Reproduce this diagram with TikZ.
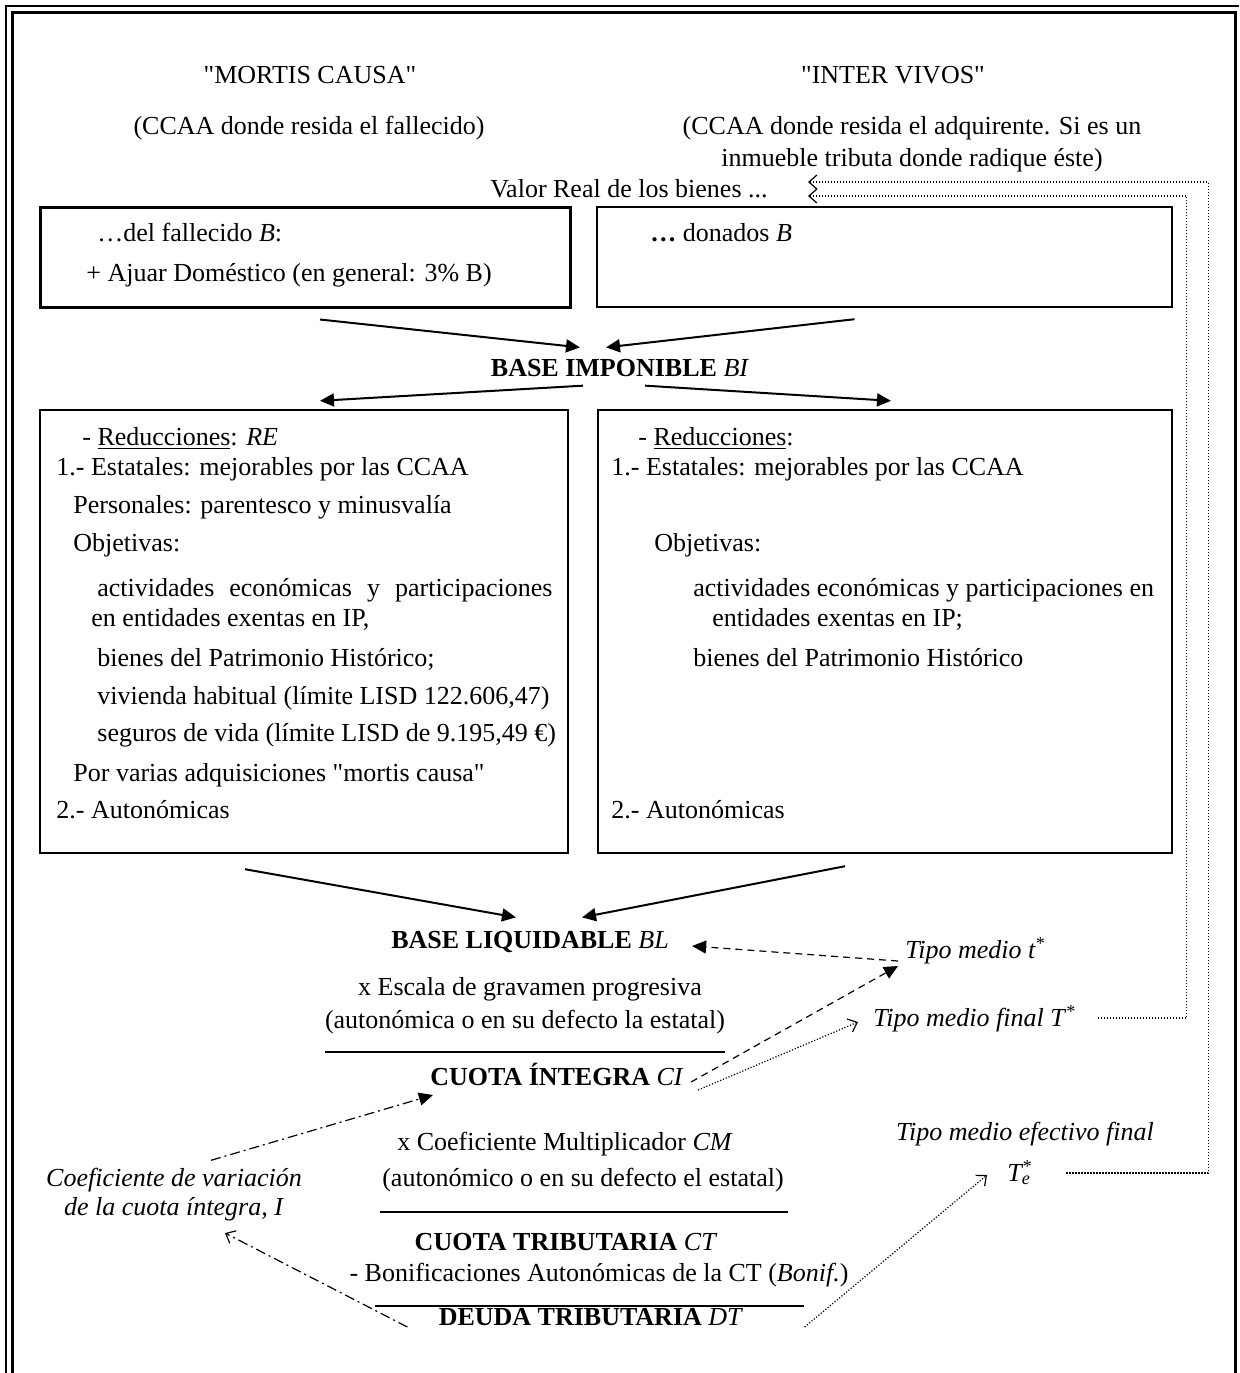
\documentclass[tikz,border=0pt]{standalone}
\usepackage{fontspec}
\setmainfont{Liberation Serif}[Ligatures=TeXOff]
\usetikzlibrary{arrows.meta,calc}

\tikzset{
  txt/.style={inner sep=0pt, anchor=base west},
  ctr/.style={inner sep=0pt, anchor=base},
  box/.style={draw, line width=1.2pt, inner sep=0pt},
  solidarr/.style={line width=1pt, -{Triangle[length=7pt,width=6.5pt]}},
  dasharr/.style={line width=0.6pt, dash pattern=on 3.5pt off 2.5pt, -{Triangle[length=7pt,width=6.5pt]}},
  dotarr/.style={line width=0.6pt, dash pattern=on 0.6pt off 0.9pt, -{Straight Barb[length=4pt,width=7pt]}},
  dashdot/.style={line width=0.6pt, dash pattern=on 5pt off 2pt on 1pt off 2pt},
}

\begin{document}
\begin{tikzpicture}[x=0.5pt,y=0.5pt,yscale=-1,font=\fontsize{13}{15}\selectfont]
\useasboundingbox (0,0) rectangle (1239,1373);

%Double frame
\draw[line width=1pt] (6,1373) -- (6,6) -- (1239,6);
\draw[line width=1.5pt] (12,1373) -- (12,12) -- (1235,12) -- (1235,1373);

% Text Node
\node[ctr] (mc) at (310,83) {"MORTIS CAUSA"};
% Text Node
\node[ctr] (iv) at (893,83) {"INTER VIVOS"};
% Text Node
\node[ctr] (mcsub) at (309,134) {(CCAA donde resida el fallecido)};
% Text Node
\node[ctr] (ivsub) at (912,134) {(CCAA donde resida el adquirente. Si es un};
\node[ctr] (ivsubb) at (912,166) {inmueble tributa donde radique éste)};
% Text Node
\node[txt, anchor=base east] (valor) at (768,197) {Valor Real de los bienes ...};

%Shape: Rectangle
\node[box, line width=1.5pt, minimum width=265pt, minimum height=50pt] (mcbox) at (305,257) {};
\node[box, minimum width=287.5pt, minimum height=50pt] (ivbox) at (884.5,257) {};
\node[txt] (mcb1) at (97,241) {…del fallecido \textit{B}:};
\node[txt] (mcb2) at (86,281) {+ Ajuar Doméstico (en general: 3\% B)};
\node[txt] (ivb1) at (650,241) {\textbf{…} donados \textit{B}};

% Text Node
\node[ctr] (bi) at (620,376) {\textbf{BASE IMPONIBLE} \textit{BI}};

%Shape: Rectangle
\node[box, minimum width=264pt, minimum height=221.5pt] (mcred) at (304,631.5) {};
\node[box, minimum width=287pt, minimum height=221.5pt] (ivred) at (885,631.5) {};

%Straight Lines
\draw[solidarr] ($(mcbox.south)+(15,11)$) -- ($(bi.north)+(-40,-11)$);
\draw[solidarr] ($(ivbox.south)+(-30,11)$) -- ($(bi.north)+(-14,-11)$);
\draw[solidarr] ($(bi.south)+(-37,9)$) -- ($(mcred.north)+(16,-8)$);
\draw[solidarr] ($(bi.south)+(25,9)$) -- ($(ivred.north)+(6,-8)$);

% Reducciones, mortis causa
\node[txt] (r1) at (82,445) {- \underline{Reducciones}: \textit{RE}};
\node[txt] (r2) at (56,475) {1.- Estatales: mejorables por las CCAA};
\node[txt] (r3) at (73,513) {Personales: parentesco y minusvalía};
\node[txt] (r4) at (73,551) {Objetivas:};
\node[txt] (r5) at (97,596) {\makebox[227.5pt][s]{actividades económicas y participaciones}};
\node[txt] (r6) at (91,626) {en entidades exentas en IP,};
\node[txt] (r7) at (97,666) {bienes del Patrimonio Histórico;};
\node[txt] (r8) at (97,704) {vivienda habitual (límite LISD 122.606,47)};
\node[txt] (r9) at (97,741) {seguros de vida (límite LISD de 9.195,49 €)};
\node[txt] (r10) at (73,781) {Por varias adquisiciones "mortis causa"};
\node[txt] (r11) at (56,818) {2.- Autonómicas};

% Reducciones, inter vivos
\node[txt] (s1) at (638,445) {- \underline{Reducciones}:};
\node[txt] (s2) at (611,475) {1.- Estatales: mejorables por las CCAA};
\node[txt] (s3) at (654,551) {Objetivas:};
\node[txt] (s4) at (693,596) {actividades económicas y participaciones en};
\node[txt] (s5) at (712,626) {entidades exentas en IP;};
\node[txt] (s6) at (693,666) {bienes del Patrimonio Histórico};
\node[txt] (s7) at (611,818) {2.- Autonómicas};

% Liquidacion
\node[ctr] (bl) at (530,948) {\textbf{BASE LIQUIDABLE} \textit{BL}};
\node[ctr] (esc) at (530,995) {x Escala de gravamen progresiva};
\node[ctr] (esc2) at (525,1028) {(autonómica o en su defecto la estatal)};
\node[ctr] (ci) at (557,1085) {\textbf{CUOTA ÍNTEGRA} \textit{CI}};
\node[ctr] (cm) at (565,1150) {x Coeficiente Multiplicador \textit{CM}};
\node[ctr] (cm2) at (583,1186) {(autonómico o en su defecto el estatal)};
\node[ctr] (ct) at (566,1250) {\textbf{CUOTA TRIBUTARIA} \textit{CT}};
\node[ctr] (bon) at (599,1281) {- Bonificaciones Autonómicas de la CT (\textit{Bonif.})};
\node[ctr] (dt) at (591,1325) {\textbf{DEUDA TRIBUTARIA} \textit{DT}};

\draw[line width=1pt] ($(esc2.base west)+(0,24)$) -- ($(esc2.base east)+(0,24)$);
\draw[line width=1pt] ($(cm2.base west)+(-2,26)$) -- ($(cm2.base east)+(4,26)$);
\draw[line width=1pt] ($(bon.base west)+(26,25)$) -- ($(bon.base east)+(-45,25)$);

% Tipos medios
\node[txt] (tm) at (905,958) {\textit{Tipo medio t}\textsuperscript{*}};
\node[txt] (tmf) at (873,1026) {\textit{Tipo medio final T}\textsuperscript{*}};
\node[ctr] (tme) at (1025,1140) {\textit{Tipo medio efectivo final}};
\node[txt] (te) at (1007,1181) {\itshape T\rlap{\textsuperscript{*}}\textsubscript{e}};
\node[ctr] (cv1) at (174,1186) {\textit{Coeficiente de variación}};
\node[ctr] (cv2) at (174,1215) {\textit{de la cuota íntegra, I}};

%Straight Lines
\draw[solidarr] ($(mcred.south)+(-59,15)$) -- ($(bl.north)+(-14,-13)$);
\draw[solidarr] ($(ivred.south)+(-40,12)$) -- ($(bl.north)+(52,-13)$);
\draw[dasharr] ($(tm.base west)+(-7,3)$) -- ($(bl.base east)+(23,-2)$);
\draw[dasharr] ($(ci.base east)+(7,-3)$) -- ($(tm.base west)+(-7,8)$);
\draw[dotarr] ($(ci.base east)+(14,5)$) -- ($(tmf.base west)+(-15,-4)$);
\draw[dashdot, -{Triangle[length=7pt,width=6.5pt]}] ($(cv1.north)+(37,-7)$) -- ($(ci.base west)+(3,10)$);
\draw[dashdot, -{Straight Barb[length=4pt,width=7pt]}] ($(dt.base west)+(-31,2)$) -- ($(cv2.base)+(51,18)$);
\draw[dotarr] ($(dt.base east)+(61,2)$) -- ($(te.base west)+(-20,-6)$);

% Dotted returns to the value
\draw[dotarr] ($(te.base east)+(35,-8)$) -- ++(142,0) |- ($(valor.base east)+(40,-15)$);
\draw[dotarr] ($(tmf.base east)+(21,-8)$) -- ++(89,0) |- ($(valor.base east)+(40,-1)$);

\end{tikzpicture}
\end{document}
